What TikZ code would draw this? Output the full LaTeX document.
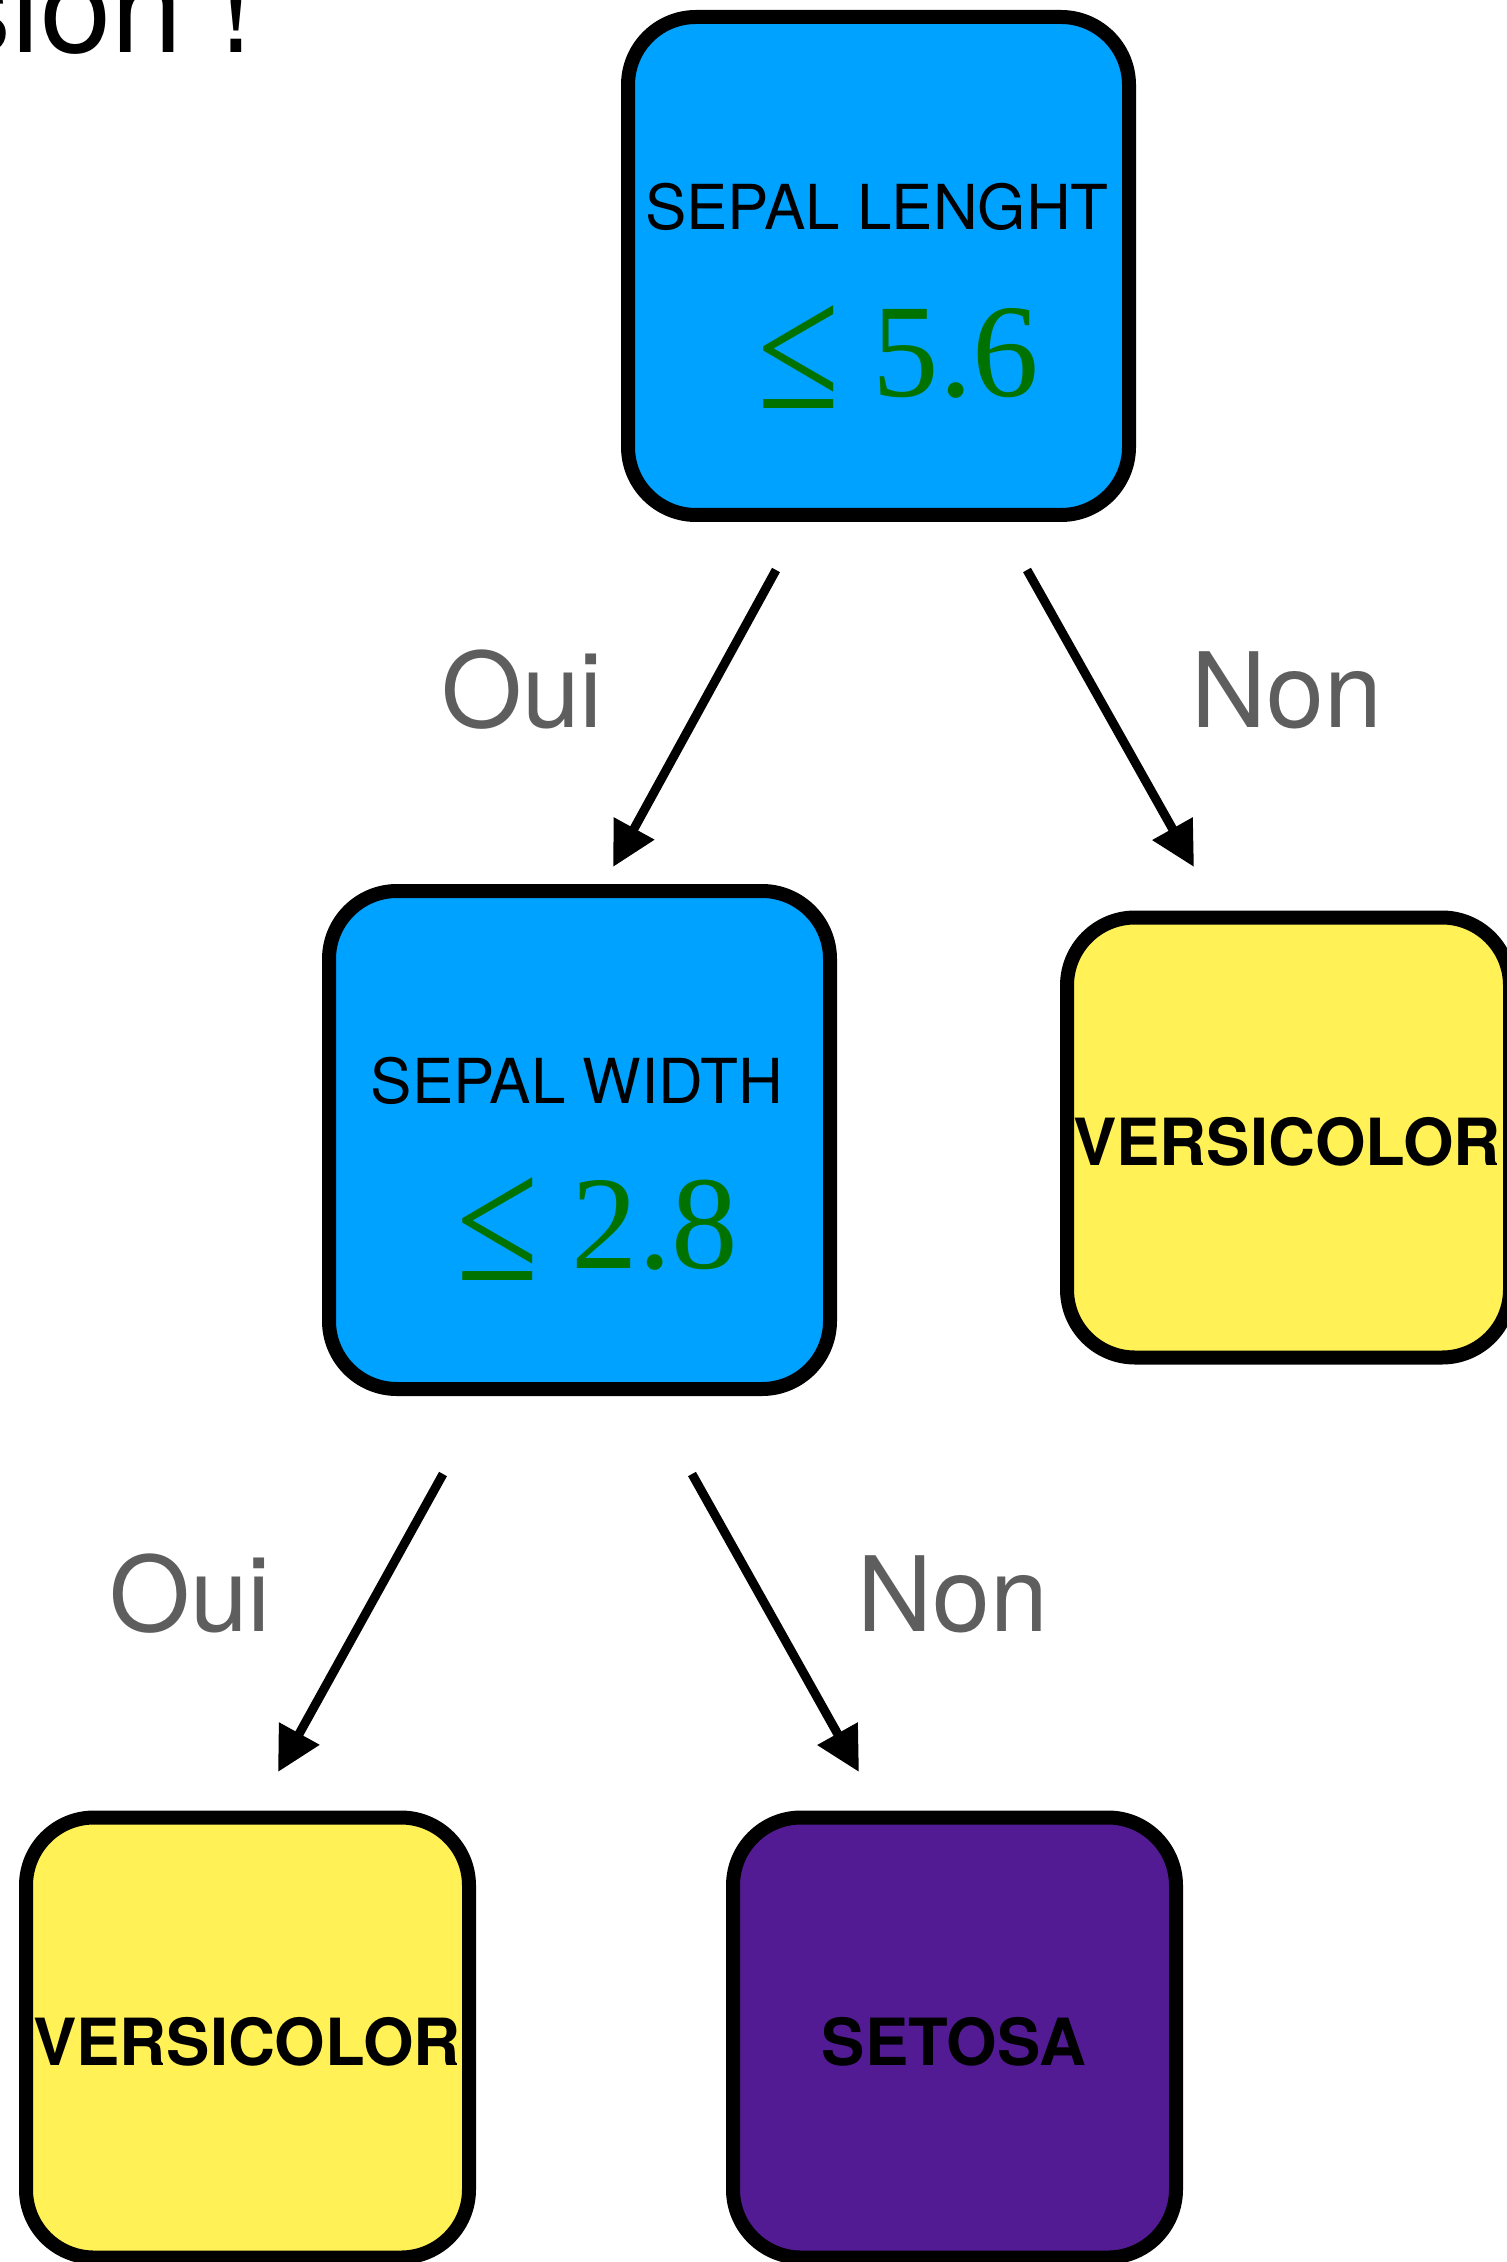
\documentclass[tikz,border=0pt]{standalone}
\usepackage{graphicx}
\usepackage{fontspec}
\setmainfont{TeX Gyre Heros}
\newfontfamily\serifnum{Liberation Serif}
\usetikzlibrary{arrows.meta}
\definecolor{boxblue}{RGB}{0,162,255}
\definecolor{boxyellow}{RGB}{255,241,86}
\definecolor{boxpurple}{RGB}{83,27,147}
\definecolor{numgreen}{RGB}{0,114,0}
\definecolor{labelgrey}{RGB}{94,94,94}
\newcommand{\bigleq}{\raisebox{-6pt}{\scalebox{1.13}[1.35]{≤}}}
\begin{document}
\begin{tikzpicture}[x=0.5pt,y=-0.5pt,
  card/.style={draw=black, line width=7pt, rounded corners=34pt, inner sep=0pt, outer sep=0pt},
  bigcard/.style={card, minimum width=250.5pt, minimum height=249pt},
  smallcard/.style={card, minimum width=221.5pt, minimum height=220pt},
  feature/.style={inner sep=0pt, anchor=base, font=\fontsize{31}{31}\selectfont},
  threshold/.style={inner sep=0pt, anchor=base, text=numgreen, font=\serifnum\fontsize{66.5}{66.5}\selectfont},
  classname/.style={inner sep=0pt, anchor=base, font=\bfseries\fontsize{32.5}{32.5}\selectfont},
  answer/.style={inner sep=0pt, anchor=base, text=labelgrey, font=\fontsize{52}{52}\selectfont},
  arr/.style={line width=4.5pt, -{Triangle[length=22pt,width=22pt]}}]
\useasboundingbox (0,0) rectangle (1507,2262);
\clip (0,0) rectangle (1507,2262);

% title fragment
\node[inner sep=0pt, anchor=base east, font=\fontsize{64}{64}\selectfont] (title) at (254,53) {sion !};

% boxes
\node[bigcard, fill=boxblue] (root) at (878.5,266) {};
\node[bigcard, fill=boxblue] (width) at (579.5,1140) {};
\node[smallcard, fill=boxyellow] (versiA) at (1288.5,1137.5) {};
\node[smallcard, fill=boxyellow] (versiB) at (247.5,2037.5) {};
\node[smallcard, fill=boxpurple] (setosa) at (954.5,2037.5) {};

% box texts
\node[feature] (rootT) at (877,230) {SEPAL LENGHT};
\node[threshold] (rootN) at (898,397) {\bigleq{} 5.6};
\node[feature] (widthT) at (577,1103) {SEPAL WIDTH};
\node[threshold] (widthN) at (597,1268) {\bigleq{} 2.8};
\node[classname] (versiAT) at (1287,1165) {VERSICOLOR};
\node[classname] (versiBT) at (247,2065) {VERSICOLOR};
\node[classname] (setosaT) at (954,2065) {SETOSA};

% arrow end points
\coordinate (r1) at (776,570);
\coordinate (r1h) at (613,867);
\coordinate (r2) at (1027,570);
\coordinate (r2h) at (1194,867);
\coordinate (w1) at (443,1474);
\coordinate (w1h) at (278,1772);
\coordinate (w2) at (692,1474);
\coordinate (w2h) at (859,1772);

\draw[arr] (r1) -- (r1h);
\draw[arr] (r2) -- (r2h);
\draw[arr] (w1) -- (w1h);
\draw[arr] (w2) -- (w2h);

% answers
\node[answer] (oui1) at (522,727) {Oui};
\node[answer] (non1) at (1287,727) {Non};
\node[answer] (oui2) at (190,1631) {Oui};
\node[answer] (non2) at (953,1631) {Non};
\end{tikzpicture}
\end{document}
